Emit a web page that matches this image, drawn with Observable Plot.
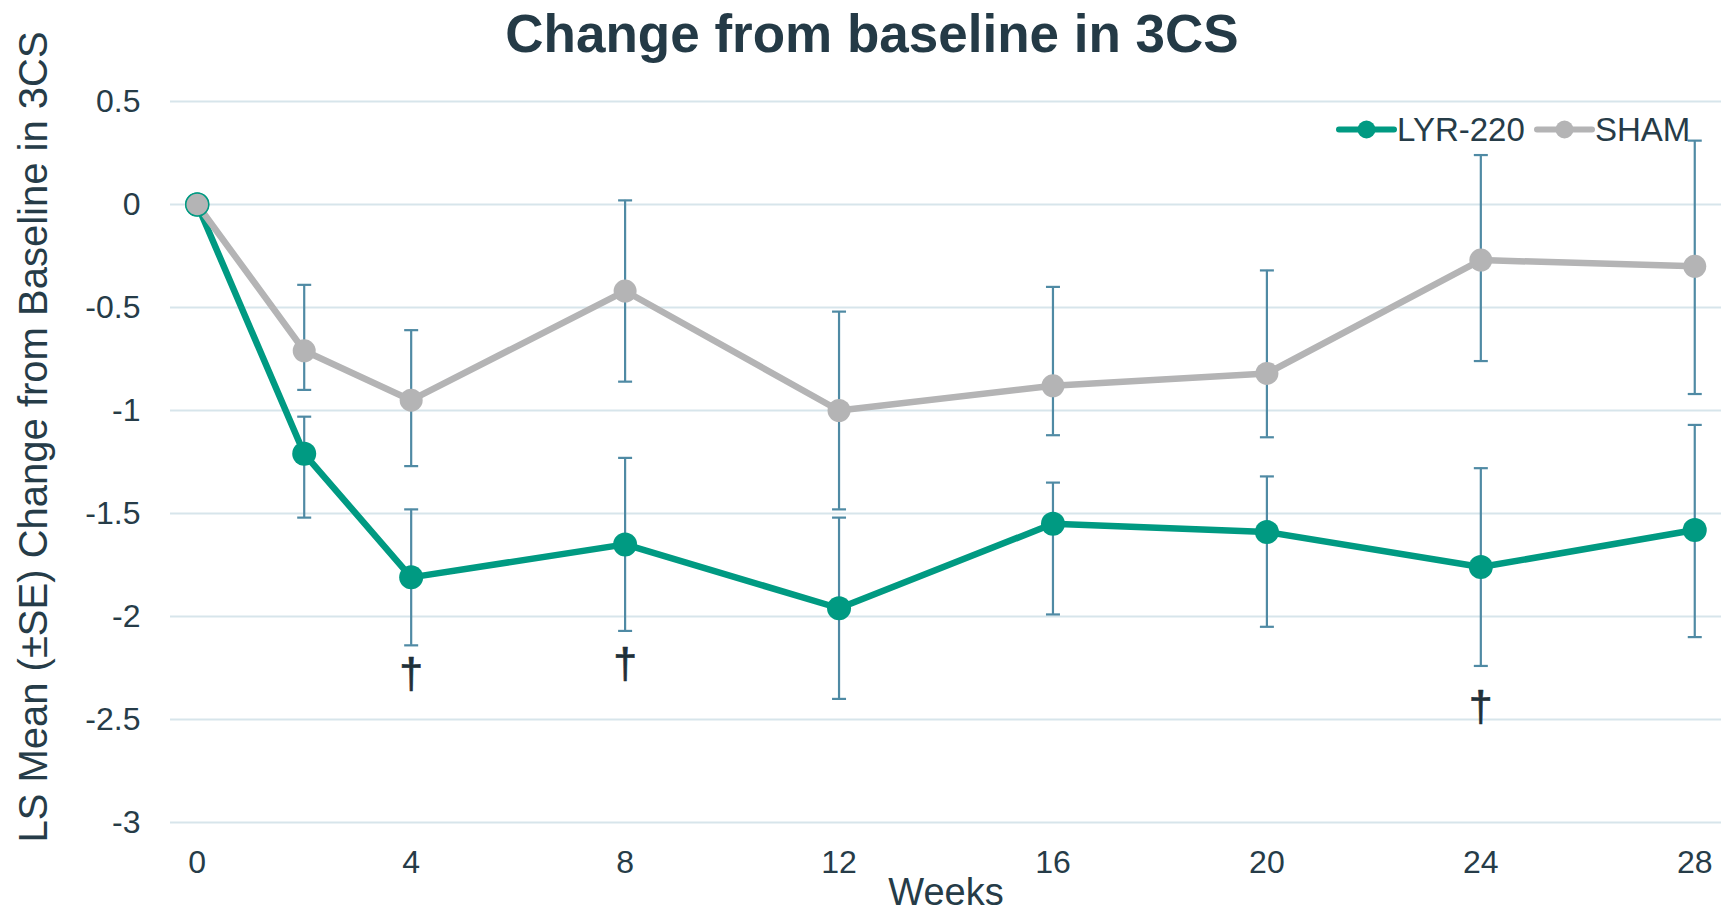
<!DOCTYPE html>
<html>
<head>
<meta charset="utf-8">
<script src="https://cdn.jsdelivr.net/npm/d3@7"></script>
<script src="https://cdn.jsdelivr.net/npm/@observablehq/plot@0.6"></script>
<style>
  html, body { margin: 0; padding: 0; background: #ffffff; }
  body { width: 1721px; height: 914px; position: relative; overflow: hidden; font-family: "Liberation Sans", Arial, sans-serif; }
  #title { position: absolute; top: 7px; left: 872px; transform: translateX(-50%); white-space: nowrap;
           font-weight: bold; font-size: 53px; line-height: 1; color: #243a46; }
  #chart { position: absolute; left: 0; top: 0; }
  .legend-item { position: absolute; top: 113px; height: 33px; display: flex; align-items: center;
                 font-size: 33px; line-height: 1; color: #263c48; white-space: nowrap; }
  .legend-item svg { display: block; }
</style>
</head>
<body>
<div id="chart"></div>
<div id="title"></div>
<div id="legend"></div>
<script>
// ---- data ----
const titleText = "Change from baseline in 3CS";
const xLabel = "Weeks";
const yLabel = "LS Mean (±SE) Change from Baseline in 3CS";
const seriesNames = ["LYR-220", "SHAM"];

const weeks     = [0, 2, 4, 8, 12, 16, 20, 24, 28];
const lyrMean   = [0, -1.21, -1.81, -1.65, -1.96, -1.55, -1.59, -1.76, -1.58];
const lyrLow    = [null, -1.52, -2.14, -2.07, -2.40, -1.99, -2.05, -2.24, -2.10];
const lyrHigh   = [null, -1.03, -1.48, -1.23, -1.52, -1.35, -1.32, -1.28, -1.07];
const shamMean  = [0, -0.71, -0.95, -0.42, -1.00, -0.88, -0.82, -0.27, -0.30];
const shamLow   = [null, -0.90, -1.27, -0.86, -1.48, -1.12, -1.13, -0.76, -0.92];
const shamHigh  = [null, -0.39, -0.61, 0.02, -0.52, -0.40, -0.32, 0.24, 0.31];

const daggerWeeks = [4, 8, 24];
const daggerY     = [-2.28, -2.23, -2.44];

const xTicks = [0, 4, 8, 12, 16, 20, 24, 28];
const yTicks = [0.5, 0, -0.5, -1, -1.5, -2, -2.5, -3];
const yTickLabels = ["0.5", "0", "-0.5", "-1", "-1.5", "-2", "-2.5", "-3"];

// ---- styles ----
const teal = "#009a82";
const grey = "#b4b4b5";
const errColor = "#4f8aa4";
const textColor = "#263c48";
const gridColor = "#d7e5eb";

// ---- tables ----
const lyrRows = weeks.map((w, i) => ({week: w, mean: lyrMean[i], low: lyrLow[i], high: lyrHigh[i], series: seriesNames[0]}));
const shamRows = weeks.map((w, i) => ({week: w, mean: shamMean[i], low: shamLow[i], high: shamHigh[i], series: seriesNames[1]}));
const errRows = [...lyrRows, ...shamRows].filter(d => d.low != null);
const daggers = daggerWeeks.map((w, i) => ({week: w, y: daggerY[i]}));

const capSymbol = {
  draw(context, size) {
    const w = Math.sqrt(size / Math.PI);
    context.moveTo(-w, 0);
    context.lineTo(w, 0);
  }
};

const font = "\"Liberation Sans\", Arial, sans-serif";

const chart = Plot.plot({
  width: 1721,
  height: 914,
  marginTop: 101,
  marginBottom: 92,
  marginLeft: 170,
  marginRight: 0,
  style: {fontFamily: font, color: textColor, background: "transparent", overflow: "visible"},
  x: {domain: [-0.5, 28.5]},
  y: {domain: [-3, 0.5]},
  marks: [
    Plot.gridY(yTicks, {stroke: gridColor, strokeOpacity: 1, strokeWidth: 2.2}),
    Plot.axisY({ticks: yTicks, tickFormat: d => yTickLabels[yTicks.indexOf(d)], tickSize: 0, tickPadding: 30,
                fontSize: 32, fill: textColor, label: null}),
    Plot.axisX({ticks: xTicks, tickFormat: d => String(d), tickSize: 0, tickPadding: 28,
                fontSize: 32, fill: textColor, label: null}),
    // error bars
    Plot.ruleX(errRows, {x: "week", y1: "low", y2: "high", stroke: errColor, strokeWidth: 2.2}),
    Plot.dot(errRows, {x: "week", y: "low", symbol: capSymbol, r: 7, stroke: errColor, strokeWidth: 2.2, fill: "none"}),
    Plot.dot(errRows, {x: "week", y: "high", symbol: capSymbol, r: 7, stroke: errColor, strokeWidth: 2.2, fill: "none"}),
    // lines
    Plot.line(lyrRows, {x: "week", y: "mean", stroke: teal, strokeWidth: 6.5}),
    Plot.line(shamRows, {x: "week", y: "mean", stroke: grey, strokeWidth: 6.5}),
    Plot.dot(lyrRows, {x: "week", y: "mean", r: 12, fill: teal}),
    Plot.dot(shamRows, {x: "week", y: "mean", r: 11.5, fill: grey,
                        stroke: d => d.week === 0 ? teal : grey, strokeWidth: d => d.week === 0 ? 1.5 : 0}),
    // significance markers
    Plot.text(daggers, {x: "week", y: "y", text: () => "†", fontSize: 43, fill: "#1f3039", stroke: "#1f3039", strokeWidth: 0.6}),
    // axis titles
    Plot.text([xLabel], {frameAnchor: "bottom", lineAnchor: "top", dy: 56, fontSize: 38, fill: textColor}),
    Plot.text([yLabel], {frameAnchor: "left", textAnchor: "middle", rotate: -90, dx: -136, dy: -25, fontSize: 40, fill: textColor})
  ]
});
document.getElementById("chart").appendChild(chart);
document.getElementById("title").textContent = titleText;

// legend (inside the plot area, top right)
const legend = document.getElementById("legend");
const legendItems = [
  {name: seriesNames[0], color: teal, left: 1336},
  {name: seriesNames[1], color: grey, left: 1534}
];
for (const it of legendItems) {
  const div = document.createElement("div");
  div.className = "legend-item";
  div.style.left = it.left + "px";
  div.innerHTML = `<svg width="61" height="33"><line x1="3" x2="58" y1="16.5" y2="16.5" stroke="${it.color}" stroke-width="6" stroke-linecap="round"/><circle cx="30.5" cy="16.5" r="9" fill="${it.color}"/></svg><span>${it.name}</span>`;
  legend.appendChild(div);
}
</script>
</body>
</html>
